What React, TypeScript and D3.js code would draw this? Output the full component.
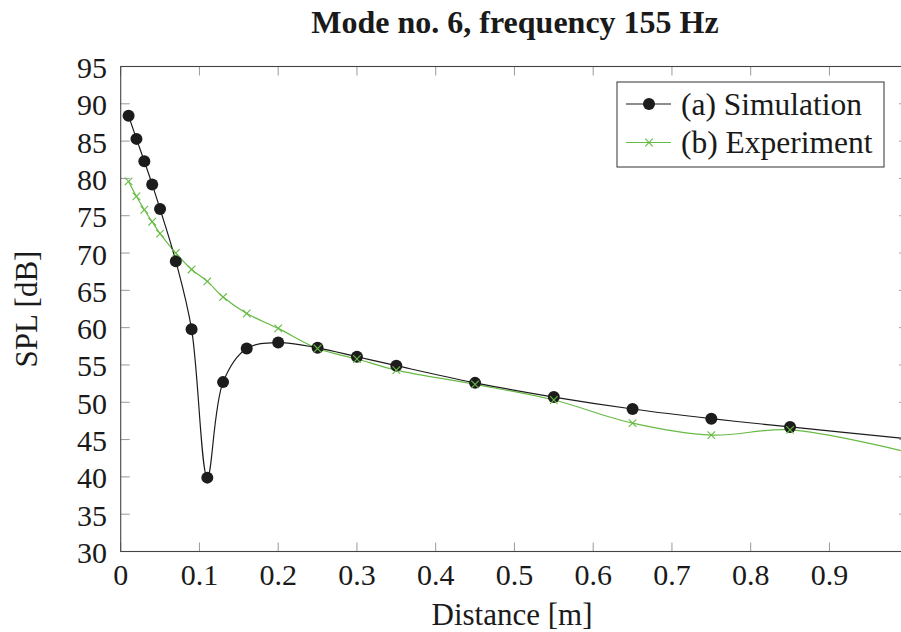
import React from "react";
import * as d3 from "d3";

const simX = [0.01, 0.02, 0.03, 0.04, 0.05, 0.07, 0.09, 0.11, 0.13, 0.16, 0.2, 0.25, 0.3, 0.35, 0.45, 0.55, 0.65, 0.75, 0.85, 1.0];
const simY = [88.4, 85.3, 82.3, 79.2, 75.9, 68.9, 59.8, 39.9, 52.7, 57.2, 58.0, 57.3, 56.1, 54.9, 52.6, 50.7, 49.1, 47.8, 46.7, 45.1];
const expX = [0.01, 0.02, 0.03, 0.04, 0.05, 0.07, 0.09, 0.11, 0.13, 0.16, 0.2, 0.25, 0.3, 0.35, 0.45, 0.55, 0.65, 0.75, 0.85, 1.0];
const expY = [79.6, 77.6, 75.8, 74.2, 72.6, 70.0, 67.8, 66.2, 64.1, 61.9, 59.9, 57.2, 55.8, 54.3, 52.4, 50.3, 47.2, 45.6, 46.3, 43.3];
const xTicks = [0, 0.1, 0.2, 0.3, 0.4, 0.5, 0.6, 0.7, 0.8, 0.9, 1.0];
const xTickLabels = ["0", "0.1", "0.2", "0.3", "0.4", "0.5", "0.6", "0.7", "0.8", "0.9"];
const yTicks = [30, 35, 40, 45, 50, 55, 60, 65, 70, 75, 80, 85, 90, 95];
const seriesNames = ["(a) Simulation", "(b) Experiment"];
const titleText = "Mode no. 6, frequency 155 Hz";
const xLabel = "Distance [m]";
const yLabel = "SPL [dB]";

const W = 901;
const H = 632;
const L = 120.7;
const R = 908.2;
const T = 66.5;
const B = 551.5;
const FONT = "'Liberation Serif', 'Times New Roman', Times, serif";
const GREEN = "#66bb44";
const DARK = "#1c1c1c";
const TXT = { fontFamily: FONT };

export default function App() {
  const x = d3.scaleLinear().domain([0, 1]).range([L, R]);
  const y = d3.scaleLinear().domain([30, 95]).range([B, T]);
  const line = d3
    .line<[number, number]>()
    .x((d) => x(d[0]))
    .y((d) => y(d[1]))
    .curve(d3.curveCatmullRom.alpha(0.5));
  const sim: [number, number][] = simX.map((v, i) => [v, simY[i]]);
  const exp: [number, number][] = expX.map((v, i) => [v, expY[i]]);
  const tick = 9;
  const cross = (cx: number, cy: number, s: number, key: any) => (
    <path
      key={key}
      d={`M${cx - s},${cy - s}L${cx + s},${cy + s}M${cx - s},${cy + s}L${cx + s},${cy - s}`}
      stroke={GREEN}
      strokeWidth={1.1}
      fill="none"
    />
  );
  return (
    <svg
      width={W}
      height={H}
      style={{ position: "absolute", left: 0, top: 0, background: "#fff", fontFamily: FONT }}
    >
      <defs>
        <clipPath id="plotclip">
          <rect x={L} y={T} width={R - L} height={B - T} />
        </clipPath>
      </defs>
      <text x={515} y={32.5} textAnchor="middle" fontSize={32} fontWeight="bold" fill="#1a1a1a" style={TXT}>
        {titleText}
      </text>
      {xTicks.map((t, i) => (
        <g key={"xt" + i}>
          <line x1={x(t)} x2={x(t)} y1={B} y2={B - tick} stroke="#999" strokeWidth={1} />
          <line x1={x(t)} x2={x(t)} y1={T} y2={T + tick} stroke="#999" strokeWidth={1} />
          {i < xTickLabels.length && (
            <text x={x(t)} y={585} textAnchor="middle" fontSize={30} fill="#1a1a1a" style={TXT}>
              {xTickLabels[i]}
            </text>
          )}
        </g>
      ))}
      {yTicks.map((t, i) => (
        <g key={"yt" + i}>
          <line x1={L} x2={L + tick} y1={y(t)} y2={y(t)} stroke="#999" strokeWidth={1} />
          <line x1={R} x2={R - tick} y1={y(t)} y2={y(t)} stroke="#999" strokeWidth={1} />
          <text x={107} y={y(t) + 11.5} textAnchor="end" fontSize={30} fill="#1a1a1a" style={TXT}>
            {t}
          </text>
        </g>
      ))}
      <g clipPath="url(#plotclip)">
        <path d={line(exp) || ""} fill="none" stroke={GREEN} strokeWidth={1.2} />
        <path d={line(sim) || ""} fill="none" stroke={DARK} strokeWidth={1.2} />
        {sim.map((d, i) => (
          <circle key={"sc" + i} cx={x(d[0])} cy={y(d[1])} r={6} fill={DARK} />
        ))}
        {exp.map((d, i) => cross(x(d[0]), y(d[1]), 3.8, "ec" + i))}
      </g>
      <rect x={L} y={T} width={R - L} height={B - T} fill="none" stroke="#444" strokeWidth={1.1} />
      <text x={512} y={625} textAnchor="middle" fontSize={31} fill="#1a1a1a" style={TXT}>
        {xLabel}
      </text>
      <text
        transform={`translate(37,${(T + B) / 2}) rotate(-90)`}
        textAnchor="middle"
        fontSize={31}
        fill="#1a1a1a"
        style={TXT}
      >
        {yLabel}
      </text>
      <g>
        <rect x={617} y={82} width={267} height={85} fill="#fff" stroke="#333" strokeWidth={1} />
        <line x1={626} x2={671} y1={104} y2={104} stroke={DARK} strokeWidth={1.2} />
        <circle cx={649} cy={104} r={6} fill={DARK} />
        <text x={681} y={114.5} fontSize={31.5} fill="#1a1a1a" style={TXT}>
          {seriesNames[0]}
        </text>
        <line x1={626} x2={671} y1={142.5} y2={142.5} stroke={GREEN} strokeWidth={1.2} />
        {cross(649, 142.5, 3.8, "lg")}
        <text x={681} y={153} fontSize={31.5} fill="#1a1a1a" style={TXT}>
          {seriesNames[1]}
        </text>
      </g>
    </svg>
  );
}
